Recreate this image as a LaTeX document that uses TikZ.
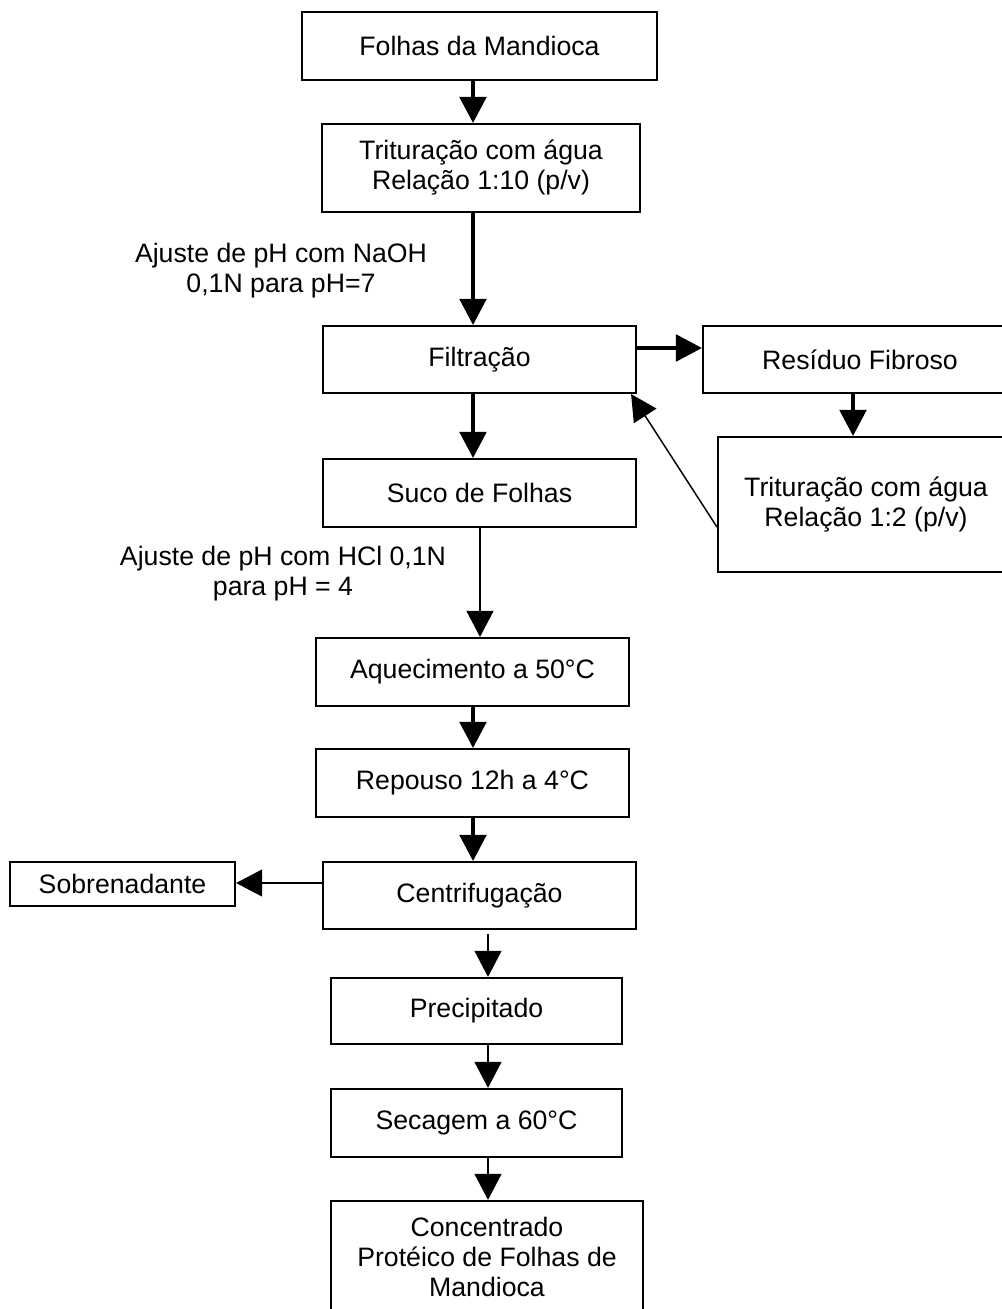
\documentclass[tikz,border=0pt]{standalone}
\usepackage{fontspec}
\setmainfont{Liberation Sans}
\usetikzlibrary{arrows.meta}

\tikzset{
  stepbox/.style={draw, line width=1.6pt, inner sep=0pt, align=center,
    font=\fontsize{20}{22.5}\selectfont},
  note/.style={inner sep=0pt, align=center, font=\fontsize{20}{22.5}\selectfont},
  flow/.style={line width=2.4pt, -{Triangle[length=19.5pt,width=20pt]}},
  flowthin/.style={line width=1.6pt, -{Triangle[length=19.5pt,width=20pt]}},
  back/.style={line width=1.1pt, -{Triangle[length=19.5pt,width=20pt]}},
}

\begin{document}
\begin{tikzpicture}[x=0.75pt, y=-0.75pt]
  \useasboundingbox (0,0) rectangle (1002,1309);

  % main process column
  \node[stepbox, minimum width=266.25pt, minimum height=51pt] (f1) at (479.5,46) {Folhas da Mandioca};
  \node[stepbox, minimum width=238.5pt, minimum height=66pt] (t1) at (481,168) {Trituração com água\\Relação 1:10 (p/v)};
  \node[stepbox, minimum width=234.75pt, minimum height=50.25pt] (fil) at (479.5,359.5) {Filtração};
  \node[stepbox, minimum width=234.75pt, minimum height=51pt] (suco) at (479.5,493) {Suco de Folhas};
  \node[stepbox, minimum width=234.75pt, minimum height=51pt] (aq) at (472.5,672) {Aquecimento a 50°C};
  \node[stepbox, minimum width=234.75pt, minimum height=51pt] (rep) at (472.5,783) {Repouso 12h a 4°C};
  \node[stepbox, minimum width=234.75pt, minimum height=50.25pt] (cen) at (479.5,895.5) {Centrifugação};
  \node[stepbox, minimum width=218.25pt, minimum height=49.5pt] (pre) at (476.5,1011) {Precipitado};
  \node[stepbox, minimum width=218.25pt, minimum height=51pt] (sec) at (476.5,1123) {Secagem a 60°C};
  \node[stepbox, minimum width=234pt, minimum height=84pt] (con) at (487,1257) {Concentrado\\Protéico de Folhas de\\Mandioca};

  % side branches
  \node[stepbox, minimum width=235.5pt, minimum height=50.25pt] (res) at (860,359.5) {Resíduo Fibroso};
  \node[stepbox, minimum width=222pt, minimum height=101.25pt] (t2) at (866,504.5) {Trituração com água\\Relação 1:2 (p/v)};
  \node[stepbox, minimum width=168.75pt, minimum height=33pt] (sob) at (122.5,884) {Sobrenadante};

  % pH adjustment notes
  \node[note] (naoh) at (281,271) {Ajuste de pH com NaOH\\0,1N para pH=7};
  \node[note] (hcl) at (283,573.5) {Ajuste de pH com HCl 0,1N\\para pH = 4};

  % connector guide lines
  \coordinate (cA) at (473,0);
  \coordinate (cB) at (480,0);
  \coordinate (cC) at (488,0);
  \coordinate (cR) at (853,0);
  \coordinate (rF) at (0,348);
  \coordinate (rT) at (0,527);
  \coordinate (rC) at (0,883);

  % connectors
  \draw[flow] (f1.south -| cA) -- (t1.north -| cA);
  \draw[flow] (t1.south -| cA) -- (fil.north -| cA);
  \draw[flow] (fil.east |- rF) -- (res.west |- rF);
  \draw[flow] (res.south -| cR) -- (t2.north -| cR);
  \draw[back] (t2.west |- rT) -- ([xshift=-4.5pt]fil.south east);
  \draw[flow] (fil.south -| cA) -- (suco.north -| cA);
  \draw[flowthin] (suco.south -| cB) -- (aq.north -| cB);
  \draw[flow] (aq.south -| cA) -- (rep.north -| cA);
  \draw[flow] (rep.south -| cA) -- (cen.north -| cA);
  \draw[flowthin] (cen.west |- rC) -- (sob.east |- rC);
  \draw[flowthin, shorten <=3pt] (cen.south -| cC) -- (pre.north -| cC);
  \draw[flowthin] (pre.south -| cC) -- (sec.north -| cC);
  \draw[flowthin] (sec.south -| cC) -- (con.north -| cC);
\end{tikzpicture}
\end{document}
